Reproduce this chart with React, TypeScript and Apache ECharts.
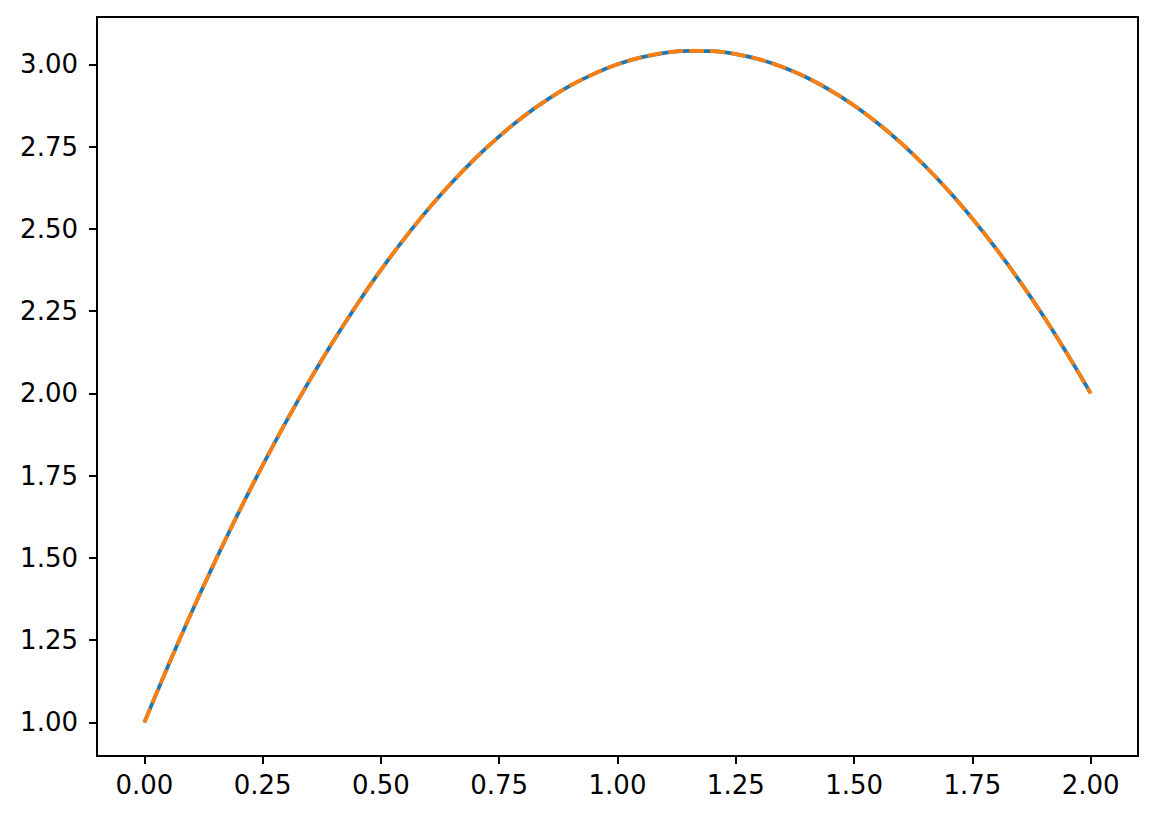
import React, { useEffect, useRef } from "react";
import * as echarts from "echarts";

const xValues = [
  0, 0.05, 0.1, 0.15, 0.2, 0.25, 0.3, 0.35, 0.4, 0.45, 0.5, 0.55, 0.6, 0.65, 0.7, 0.75, 0.8, 0.85, 0.9, 0.95,
  1.0, 1.05, 1.1, 1.15, 1.2, 1.25, 1.3, 1.35, 1.4, 1.45, 1.5, 1.55, 1.6, 1.65, 1.7, 1.75, 1.8, 1.85, 1.9, 1.95, 2.0,
];
const solidValues = [
  1.0, 1.171, 1.335, 1.491, 1.64, 1.781, 1.915, 2.041, 2.16, 2.271, 2.375, 2.471, 2.56, 2.641, 2.715, 2.781,
  2.84, 2.891, 2.935, 2.971, 3.0, 3.021, 3.035, 3.041, 3.04, 3.031, 3.015, 2.991, 2.96, 2.921, 2.875, 2.821,
  2.76, 2.691, 2.615, 2.531, 2.44, 2.341, 2.235, 2.121, 2.0,
];
const dashedValues = [
  1.0, 1.171, 1.335, 1.491, 1.64, 1.781, 1.915, 2.041, 2.16, 2.271, 2.375, 2.471, 2.56, 2.641, 2.715, 2.781,
  2.84, 2.891, 2.935, 2.971, 3.0, 3.021, 3.035, 3.041, 3.04, 3.031, 3.015, 2.991, 2.96, 2.921, 2.875, 2.821,
  2.76, 2.691, 2.615, 2.531, 2.44, 2.341, 2.235, 2.121, 2.0,
];
const xTicks = [0, 0.25, 0.5, 0.75, 1.0, 1.25, 1.5, 1.75, 2.0];
const yTicks = [1.0, 1.25, 1.5, 1.75, 2.0, 2.25, 2.5, 2.75, 3.0];

export default function App() {
  const ref = useRef<HTMLDivElement>(null);
  useEffect(() => {
    if (!ref.current) return;
    const chart = echarts.init(ref.current, null, { renderer: "svg" });
    const font = { fontFamily: "DejaVu Sans", fontSize: 26, color: "#000" };
    chart.setOption({
      animation: false,
      grid: {
        left: 97,
        right: 20,
        top: 17,
        bottom: 66,
        show: true,
        borderColor: "#000",
        borderWidth: 2,
        containLabel: false,
      },
      xAxis: {
        type: "value",
        min: -0.1,
        max: 2.1,
        splitLine: { show: false },
        axisLine: { show: true, onZero: false, lineStyle: { color: "#000", width: 2 } },
        axisTick: { show: true, length: 8, lineStyle: { color: "#000", width: 2 }, customValues: xTicks },
        axisLabel: { ...font, margin: 16, customValues: xTicks, formatter: (v: number) => v.toFixed(2) },
      },
      yAxis: {
        type: "value",
        min: 0.8979,
        max: 3.1438,
        splitLine: { show: false },
        axisLine: { show: true, onZero: false, lineStyle: { color: "#000", width: 2 } },
        axisTick: { show: true, length: 8, lineStyle: { color: "#000", width: 2 }, customValues: yTicks },
        axisLabel: { ...font, margin: 19, customValues: yTicks, formatter: (v: number) => v.toFixed(2) },
      },
      series: [
        {
          type: "line",
          data: xValues.map((x, i) => [x, solidValues[i]]),
          showSymbol: false,
          smooth: 0.4,
          lineStyle: { color: "#1f77b4", width: 3.75, type: "solid" },
          z: 2,
        },
        {
          type: "line",
          data: xValues.map((x, i) => [x, dashedValues[i]]),
          showSymbol: false,
          smooth: 0.4,
          lineStyle: { color: "#ff7f0e", width: 3.75, type: [15, 6] },
          z: 3,
        },
      ],
    });
    return () => chart.dispose();
  }, []);
  return (
    <div
      ref={ref}
      style={{ position: "fixed", left: 0, top: 0, width: 1158, height: 822, background: "#fff" }}
    />
  );
}
